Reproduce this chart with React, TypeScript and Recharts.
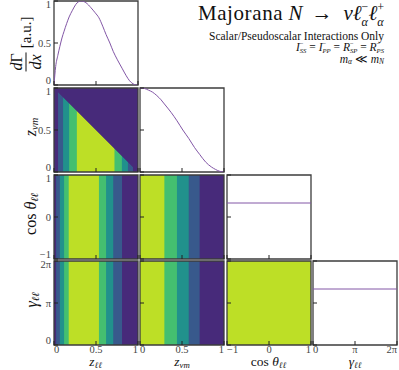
import React from "react";
import { ComposedChart, XAxis, YAxis, Area, Line, ReferenceArea } from "recharts";

const SERIF = "'Liberation Serif', 'Times New Roman', serif";
// viridis colours of the five contour levels (low -> high)
const LEVEL_COLORS = ["#472a7a", "#38598c", "#21918c", "#44bf70", "#bddf26"];
const LINE_COLOR = "#8256a6";
const FRAME = "#3c3c3c";

// tick values and labels
const zTicks = [0, 0.5, 1];
const zTickLabels = ["0", "0.5", "1"];
const cosTicks = [-1, 0, 1];
const cosTickLabels = ["\u22121", "0", "1"];
const gammaTicks = [0, Math.PI, 2 * Math.PI];
const gammaTickLabels = ["0", "\u03c0", "2\u03c0"];
const rateTicks = [0, 0.5, 1];
const rateTickLabels = ["0", "0.5", "1"];
const flatRateTicks = [0, 0.75, 1.5];

// 1D distribution in z_ll (top-left panel)
const zllGrid = [0, 0.02, 0.045, 0.07, 0.095, 0.12, 0.15, 0.18, 0.22, 0.26, 0.32, 0.38, 0.44, 0.49, 0.535, 0.58, 0.62, 0.665, 0.705, 0.755, 0.81, 0.86, 0.9, 0.94, 0.975, 1];
const zllRate = [0, 0.22, 0.35, 0.46, 0.56, 0.64, 0.73, 0.81, 0.89, 0.96, 1.0, 0.98, 0.92, 0.86, 0.8, 0.7, 0.6, 0.5, 0.4, 0.3, 0.2, 0.11, 0.05, 0.015, 0, 0];
// 1D distribution in z_vm
const zvmGrid = [0, 0.05, 0.1, 0.15, 0.2, 0.25, 0.29, 0.37, 0.44, 0.51, 0.58, 0.65, 0.71, 0.78, 0.85, 0.9, 0.95, 1];
const zvmRate = [1, 0.995, 0.975, 0.95, 0.91, 0.86, 0.81, 0.71, 0.61, 0.5, 0.4, 0.29, 0.21, 0.12, 0.06, 0.03, 0.008, 0];
// flat distributions in cos(theta) and gamma
const cosGrid = [-1, 1];
const cosRate = [1, 1];
const gammaGrid = [0, 2 * Math.PI];
const gammaRate = [1, 1];

// contour bands along the horizontal variable: edges + level index
const zllBandEdges = [0, 0.025, 0.07, 0.12, 0.175, 0.535, 0.62, 0.705, 0.81, 1];
const zllBandLevels = [0, 1, 2, 3, 4, 3, 2, 1, 0];
const zvmBandEdges = [0, 0.29, 0.44, 0.58, 0.71, 1];
const zvmBandLevels = [4, 3, 2, 1, 0];
const jointBandEdges = [0, 0.048, 0.108, 0.18, 0.272, 0.72, 0.808, 0.88, 0.94, 1];
const jointBandLevels = [0, 1, 2, 3, 4, 3, 2, 1, 0];
const cosBandEdges = [-1, 1];
const cosBandLevels = [4];
// kinematic edge in the z_vm vs z_ll panel
const edgeZll = [0, 1];
const edgeZvm = [1, 0];

type Ax = { domain: [number, number]; ticks: number[]; labels: string[] };
const zllAx: Ax = { domain: [0, 1], ticks: zTicks, labels: zTickLabels };
const zvmAx: Ax = { domain: [0, 1], ticks: zTicks, labels: zTickLabels };
const cosAx: Ax = { domain: [-1, 1], ticks: cosTicks, labels: cosTickLabels };
const gamAx: Ax = { domain: [0, 2 * Math.PI], ticks: gammaTicks, labels: gammaTickLabels };
const rateAx: Ax = { domain: [0, 1], ticks: rateTicks, labels: rateTickLabels };
const flatAx: Ax = { domain: [0, 1.5], ticks: flatRateTicks, labels: ["", "", ""] };

const COL_X = [53.5, 140, 226.5, 313];
const ROW_Y = [1, 87.7, 174.5, 261];
const SIZE = 84;
// axes take 1px each (a zero-sized axis is not drawn)
const M = { top: 6, right: 6, bottom: 29, left: 45 };

const xTick = (ax: Ax, show: boolean) => (props: any) => {
  const { x, y, payload } = props;
  let i = ax.ticks.indexOf(payload.value);
  if (i < 0) i = props.index ?? 0;
  const anchor = i === 0 ? "start" : i === ax.ticks.length - 1 ? "end" : "middle";
  return (
    <g>
      <line x1={x} x2={x} y1={y} y2={y - 4} stroke="#222" strokeWidth={1} />
      {show && (
        <text x={x} y={y + 0.5} dy="0.71em" textAnchor={anchor} fontSize={10.5} fill="#444" fontFamily={SERIF}>
          {ax.labels[i]}
        </text>
      )}
    </g>
  );
};

const yTick = (ax: Ax, show: boolean) => (props: any) => {
  const { x, y, payload } = props;
  let i = ax.ticks.indexOf(payload.value);
  if (i < 0) i = props.index ?? 0;
  const last = ax.ticks.length - 1;
  const ty = i === 0 ? y - 1 : y;
  const dy = i === 0 ? "0" : i === last ? "0.71em" : "0.35em";
  return (
    <g>
      <line x1={x} x2={x + 4} y1={y} y2={y} stroke="#222" strokeWidth={1} />
      {show && (
        <text x={x - 3} y={ty} dy={dy} textAnchor="end" fontSize={10.5} fill="#444" fontFamily={SERIF}>
          {ax.labels[i]}
        </text>
      )}
    </g>
  );
};

function Panel({ row, col, xa, ya, children }: { row: number; col: number; xa: Ax; ya: Ax; children: React.ReactNode }) {
  return (
    <div style={{ position: "absolute", left: COL_X[col] - M.left - 1, top: ROW_Y[row] - M.top }}>
      <ComposedChart width={M.left + 1 + SIZE + M.right} height={M.top + SIZE + 1 + M.bottom} margin={M}>
        <XAxis
          type="number"
          dataKey="x"
          domain={xa.domain}
          ticks={xa.ticks}
          allowDataOverflow
          interval={0}
          height={1}
          tickSize={0}
          tickMargin={0}
          axisLine={false}
          tickLine={false}
          tick={xTick(xa, row === 3)}
        />
        <YAxis
          type="number"
          domain={ya.domain}
          ticks={ya.ticks}
          allowDataOverflow
          interval={0}
          width={1}
          tickSize={0}
          tickMargin={0}
          axisLine={false}
          tickLine={false}
          tick={yTick(ya, col === 0)}
        />
        {children}
        <ReferenceArea
          x1={xa.domain[0]}
          x2={xa.domain[1]}
          y1={ya.domain[0]}
          y2={ya.domain[1]}
          fill="none"
          stroke={FRAME}
          strokeWidth={1.3}
        />
      </ComposedChart>
    </div>
  );
}

// each band runs from its left edge to the panel's right edge; later bands paint over earlier ones
function bands(edges: number[], levels: number[], yDomain: [number, number], id: string) {
  const end = edges[edges.length - 1];
  return levels.map((lvl, i) => (
    <Area
      key={`${id}-${i}`}
      data={[
        { x: edges[i], v: yDomain },
        { x: end, v: yDomain },
      ]}
      dataKey="v"
      type="linear"
      fill={LEVEL_COLORS[lvl]}
      fillOpacity={1}
      stroke="none"
      dot={false}
      activeDot={false}
      isAnimationActive={false}
    />
  ));
}

function curve(grid: number[], rate: number[]) {
  const pts = grid.map((x, i) => ({ x, y: rate[i] }));
  return (
    <Line
      data={pts}
      dataKey="y"
      type="monotone"
      stroke={LINE_COLOR}
      strokeWidth={1}
      dot={false}
      activeDot={false}
      isAnimationActive={false}
    />
  );
}

const sub = (s: string, italic = true) => (
  <sub style={{ fontSize: "0.65em", fontStyle: italic ? "italic" : "normal", verticalAlign: "-0.18em", lineHeight: 0 }}>{s}</sub>
);

function SupSub({ sup, low, lh = 1.0, shift = "-0.4em" }: { sup: string; low: string; lh?: number; shift?: string }) {
  return (
    <span
      style={{
        display: "inline-block",
        verticalAlign: shift,
        fontSize: "0.58em",
        lineHeight: lh,
        textAlign: "left",
      }}
    >
      <span style={{ display: "block" }}>{sup}</span>
      <span style={{ display: "block", fontStyle: "italic" }}>{low}</span>
    </span>
  );
}

function XTitle({ cx, children }: { cx: number; children: React.ReactNode }) {
  return (
    <div
      style={{
        position: "absolute",
        left: cx,
        top: 362.3,
        transform: "translate(-50%, -50%)",
        fontSize: 13.5,
        fontFamily: SERIF,
        whiteSpace: "nowrap",
        lineHeight: 1,
      }}
    >
      {children}
    </div>
  );
}

function YTitle({ cx, cy, children }: { cx: number; cy: number; children: React.ReactNode }) {
  return (
    <div
      style={{
        position: "absolute",
        left: cx,
        top: cy,
        transform: "translate(-50%, -50%) rotate(-90deg)",
        fontSize: 16,
        fontFamily: SERIF,
        whiteSpace: "nowrap",
        lineHeight: 1,
      }}
    >
      {children}
    </div>
  );
}

const ll = "\u2113\u2113";
const note = { position: "absolute" as const, right: 15, fontSize: 11.5, lineHeight: "12px", whiteSpace: "nowrap" as const, textAlign: "right" as const };

export default function App() {
  const zDom: [number, number] = [0, 1];
  return (
    <div
      style={{
        position: "absolute",
        left: 0,
        top: 0,
        width: 399,
        height: 370,
        background: "#fff",
        overflow: "hidden",
        fontFamily: SERIF,
        color: "#111",
      }}
    >
      {/* row 0 */}
      <Panel row={0} col={0} xa={zllAx} ya={rateAx}>
        {curve(zllGrid, zllRate)}
      </Panel>

      {/* row 1 */}
      <Panel row={1} col={0} xa={zllAx} ya={zvmAx}>
        {bands(jointBandEdges, jointBandLevels, zDom, "joint")}
        <Area
          data={edgeZll.map((x, i) => ({ x, v: [edgeZvm[i], zDom[1]] }))}
          dataKey="v"
          type="linear"
          fill={LEVEL_COLORS[0]}
          fillOpacity={1}
          stroke={LEVEL_COLORS[0]}
          strokeWidth={0.5}
          dot={false}
          activeDot={false}
          isAnimationActive={false}
        />
      </Panel>
      <Panel row={1} col={1} xa={zvmAx} ya={rateAx}>
        {curve(zvmGrid, zvmRate)}
      </Panel>

      {/* row 2 */}
      <Panel row={2} col={0} xa={zllAx} ya={cosAx}>
        {bands(zllBandEdges, zllBandLevels, cosAx.domain, "c0")}
      </Panel>
      <Panel row={2} col={1} xa={zvmAx} ya={cosAx}>
        {bands(zvmBandEdges, zvmBandLevels, cosAx.domain, "c1")}
      </Panel>
      <Panel row={2} col={2} xa={cosAx} ya={flatAx}>
        {curve(cosGrid, cosRate)}
      </Panel>

      {/* row 3 */}
      <Panel row={3} col={0} xa={zllAx} ya={gamAx}>
        {bands(zllBandEdges, zllBandLevels, gamAx.domain, "g0")}
      </Panel>
      <Panel row={3} col={1} xa={zvmAx} ya={gamAx}>
        {bands(zvmBandEdges, zvmBandLevels, gamAx.domain, "g1")}
      </Panel>
      <Panel row={3} col={2} xa={cosAx} ya={gamAx}>
        {bands(cosBandEdges, cosBandLevels, gamAx.domain, "g2")}
      </Panel>
      <Panel row={3} col={3} xa={gamAx} ya={flatAx}>
        {curve(gammaGrid, gammaRate)}
      </Panel>

      {/* axis titles */}
      <XTitle cx={95.5}>
        <i>z</i>
        {sub(ll)}
      </XTitle>
      <XTitle cx={182}>
        <i>z</i>
        {sub("\u03bdm")}
      </XTitle>
      <XTitle cx={268.5}>
        cos <i>{"\u03b8"}</i>
        {sub(ll)}
      </XTitle>
      <XTitle cx={355}>
        <i>{"\u03b3"}</i>
        {sub(ll)}
      </XTitle>

      <YTitle cx={31} cy={127}>
        <i>z</i>
        {sub("\u03bdm")}
      </YTitle>
      <YTitle cx={31} cy={214}>
        cos <i>{"\u03b8"}</i>
        {sub(ll)}
      </YTitle>
      <YTitle cx={32} cy={300}>
        <i>{"\u03b3"}</i>
        {sub(ll)}
      </YTitle>
      <YTitle cx={26} cy={44}>
        <span
          style={{
            display: "inline-flex",
            flexDirection: "column",
            alignItems: "center",
            verticalAlign: "middle",
            fontSize: 16,
          }}
        >
          <span style={{ borderBottom: "1px solid #111", padding: "0 1px 1px" }}>
            <i>d</i>
            {"\u0393"}
          </span>
          <span style={{ paddingTop: 1 }}>
            <i>dx</i>
          </span>
        </span>
        <span style={{ verticalAlign: "middle", marginLeft: 4, fontSize: 15 }}>[a.u.]</span>
      </YTitle>

      {/* title block */}
      <div
        style={{
          position: "absolute",
          right: 15,
          top: 0,
          fontSize: 21,
          lineHeight: "22px",
          whiteSpace: "nowrap",
        }}
      >
        <span style={{ letterSpacing: 0.6 }}>Majorana</span> <i>N</i>
        <span style={{ marginLeft: 9, marginRight: 11 }}>{"\u2192"}</span>
        <i>{"\u03bd\u2113"}</i>
        <SupSub sup={"\u2212"} low={"\u03b1"} lh={1.2} shift="-0.5em" />
        <i>{"\u2113"}</i>
        <SupSub sup="+" low={"\u03b1"} lh={1.2} shift="-0.5em" />
      </div>
      <div style={{ ...note, top: 30 }}>Scalar/Pseudoscalar Interactions Only</div>
      <div style={{ ...note, top: 40.5 }}>
        <i>I</i>
        <SupSub sup={"\u2212"} low="SS" /> = <i>I</i>
        <SupSub sup={"\u2212"} low="PP" /> = <i>R</i>
        <SupSub sup={"\u2212"} low="SP" /> = <i>R</i>
        <SupSub sup={"\u2212"} low="PS" />
      </div>
      <div style={{ ...note, top: 52.5 }}>
        <i>m</i>
        {sub("\u03b1")} {"\u226a"} <i>m</i>
        {sub("N")}
      </div>
    </div>
  );
}
